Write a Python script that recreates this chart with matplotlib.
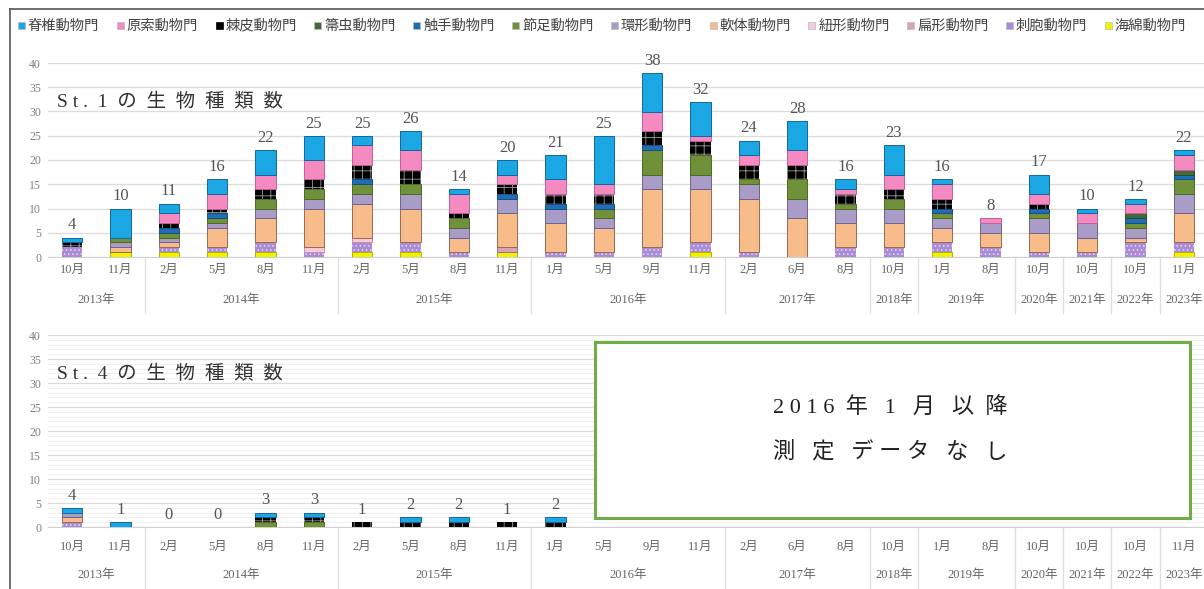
import matplotlib
matplotlib.use("Agg")
import matplotlib.pyplot as plt
import matplotlib.transforms as mtransforms
from matplotlib.patches import Rectangle
from matplotlib.lines import Line2D
import numpy as np

plt.rcParams['hatch.linewidth'] = 0.6
FONT = ['Liberation Serif', 'Noto Sans CJK JP', 'DejaVu Sans']
SANS = ['Noto Sans CJK JP', 'DejaVu Sans']

# ---------------- data ----------------
months = ["10月", "11月", "2月", "5月", "8月", "11月", "2月", "5月", "8月", "11月",
          "1月", "5月", "9月", "11月", "2月", "6月", "8月", "10月", "1月", "8月",
          "10月", "10月", "10月", "11月"]
years = ["2013年", "2014年", "2015年", "2016年", "2017年", "2018年", "2019年",
         "2020年", "2021年", "2022年", "2023年"]
year_counts = [2, 4, 4, 4, 3, 1, 2, 1, 1, 1, 1]

# legend order (top-left to right)
phyla = ["脊椎動物門", "原索動物門", "棘皮動物門", "箒虫動物門", "触手動物門", "節足動物門",
         "環形動物門", "軟体動物門", "紐形動物門", "扁形動物門", "刺胞動物門", "海綿動物門"]

# St.1 species counts per phylum
st1_sekitsui = [1, 6, 2, 3, 5, 5, 2, 4, 1, 3, 5, 10, 8, 7, 3, 6, 2, 6, 1, 0, 4, 1, 1, 1]
st1_gensaku  = [0, 0, 2, 3, 3, 4, 4, 4, 4, 2, 3, 2, 4, 1, 2, 3, 1, 3, 3, 1, 2, 2, 2, 3]
st1_kyokuhi  = [1, 0, 1, 1, 2, 2, 3, 3, 1, 2, 2, 2, 3, 3, 3, 3, 2, 2, 2, 0, 1, 0, 0, 0]
st1_houchu   = [0, 0, 0, 0, 0, 0, 0, 0, 0, 0, 0, 0, 0, 0, 0, 0, 0, 0, 0, 0, 0, 0, 1, 1]
st1_shokushu = [0, 0, 1, 1, 0, 0, 1, 0, 0, 1, 1, 1, 1, 0, 0, 0, 0, 0, 1, 0, 1, 0, 1, 1]
st1_sessoku  = [0, 1, 1, 1, 2, 2, 2, 2, 2, 0, 0, 2, 5, 4, 1, 4, 1, 2, 1, 0, 1, 0, 1, 3]
st1_kankei   = [0, 1, 1, 1, 2, 2, 2, 3, 2, 3, 3, 2, 3, 3, 3, 4, 3, 3, 2, 2, 3, 3, 2, 4]
st1_nantai   = [0, 1, 1, 4, 5, 8, 7, 7, 3, 7, 6, 5, 12, 11, 11, 8, 5, 5, 3, 3, 4, 3, 1, 6]
st1_chukei   = [0, 0, 0, 0, 0, 1, 1, 0, 0, 0, 0, 0, 0, 0, 0, 0, 0, 0, 0, 0, 0, 0, 0, 0]
st1_henkei   = [0, 0, 0, 0, 0, 0, 0, 0, 0, 1, 0, 0, 0, 0, 0, 0, 0, 0, 0, 0, 0, 0, 0, 0]
st1_shihou   = [2, 0, 1, 1, 2, 1, 2, 2, 1, 0, 1, 1, 2, 2, 1, 0, 2, 2, 2, 2, 1, 1, 3, 2]
st1_kaimen   = [0, 1, 1, 1, 1, 0, 1, 1, 0, 1, 0, 0, 0, 1, 0, 0, 0, 0, 1, 0, 0, 0, 0, 1]

# St.4 species counts (measured only up to 2016-01)
st4_sekitsui = [1, 1, 0, 0, 1, 1, 0, 1, 1, 0, 1]
st4_gensaku  = [0, 0, 0, 0, 0, 0, 0, 0, 0, 0, 0]
st4_kyokuhi  = [0, 0, 0, 0, 1, 1, 1, 1, 1, 1, 1]
st4_houchu   = [0, 0, 0, 0, 0, 0, 0, 0, 0, 0, 0]
st4_shokushu = [0, 0, 0, 0, 0, 0, 0, 0, 0, 0, 0]
st4_sessoku  = [0, 0, 0, 0, 1, 1, 0, 0, 0, 0, 0]
st4_kankei   = [1, 0, 0, 0, 0, 0, 0, 0, 0, 0, 0]
st4_nantai   = [1, 0, 0, 0, 0, 0, 0, 0, 0, 0, 0]
st4_chukei   = [0, 0, 0, 0, 0, 0, 0, 0, 0, 0, 0]
st4_henkei   = [0, 0, 0, 0, 0, 0, 0, 0, 0, 0, 0]
st4_shihou   = [1, 0, 0, 0, 0, 0, 0, 0, 0, 0, 0]
st4_kaimen   = [0, 0, 0, 0, 0, 0, 0, 0, 0, 0, 0]

st1 = [st1_sekitsui, st1_gensaku, st1_kyokuhi, st1_houchu, st1_shokushu, st1_sessoku,
       st1_kankei, st1_nantai, st1_chukei, st1_henkei, st1_shihou, st1_kaimen]
st4 = [st4_sekitsui, st4_gensaku, st4_kyokuhi, st4_houchu, st4_shokushu, st4_sessoku,
       st4_kankei, st4_nantai, st4_chukei, st4_henkei, st4_shihou, st4_kaimen]

# styles (same order as phyla)
face = ['#1AA7E3', '#F58AC0', '#000000', '#3F6B3A', '#1F6EB5', '#6F9139',
        '#A99CC6', '#F8BB8A', '#F6CADA', '#D9A2B8', '#A98BD6', '#F2F200']
edge = ['#1565A0', '#C0609A', '#9A9A9A', '#2A4A28', '#154E85', '#4E6A26',
        '#6E6390', '#9A6A50', '#C890A8', '#A07088', '#E6DAF5', '#B0B000']
hatch = [None, None, '++', None, None, None, None, None, None, None, '....', None]

# ---------------- figure ----------------
W, H = 1204, 589
fig = plt.figure(figsize=(W / 100, H / 100), dpi=100)


def fx(px):
    return px / W


def fy(py):
    return 1 - py / H


# outer frame lines
fig.add_artist(Line2D([fx(10), fx(1204)], [fy(9), fy(9)], color='#555555', lw=1.2))
fig.add_artist(Line2D([fx(10), fx(10)], [fy(9), fy(589)], color='#555555', lw=1.2))

# legend
for i, name in enumerate(phyla):
    x0 = 18 + i * 98.8
    fig.add_artist(Rectangle((fx(x0), fy(29)), fx(7), 7 / H, facecolor=face[i],
                             edgecolor='#BBBBBB' if i != 2 else '#000000', lw=0.5))
    fig.text(fx(x0 + 10), fy(25.5), name, fontsize=10.3, color='#444444',
             family=SANS, ha='left', va='center')

AX_L, AX_R = 48, 1208


def draw_panel(top_px, bot_px, series, n, title, minor, m_off, y_off):
    ax = fig.add_axes([fx(AX_L), fy(bot_px), fx(AX_R) - fx(AX_L), fy(top_px) - fy(bot_px)])
    ax.set_xlim(-0.5, 23.5)
    ax.set_ylim(0, 40)
    x = np.arange(n)
    bottom = np.zeros(n)
    for k in range(len(series) - 1, -1, -1):
        vals = np.array(series[k], dtype=float)
        m = vals > 0
        if m.any():
            if hatch[k] is not None:
                ax.bar(x[m], vals[m], bottom=bottom[m], width=0.42, color=face[k],
                       edgecolor=edge[k], hatch=hatch[k], linewidth=0, zorder=3)
            else:
                ax.bar(x[m], vals[m], bottom=bottom[m], width=0.42, color=face[k],
                       edgecolor=edge[k], linewidth=0.7, zorder=3)
        bottom += vals
    for i in range(n):
        ax.annotate(str(int(bottom[i])), (x[i], bottom[i]), xytext=(0, 3),
                    textcoords='offset points', ha='center', va='bottom',
                    fontsize=12, color='#555555', family=FONT)
    ax.set_yticks(range(0, 41, 5))
    ax.set_yticklabels([str(v) for v in range(0, 41, 5)], family=FONT)
    ax.tick_params(axis='y', length=0, labelsize=8.5, labelcolor='#808080', pad=5)
    ax.set_xticks([])
    if minor:
        ax.set_yticks(range(0, 41, 1), minor=True)
        ax.grid(axis='y', which='minor', color='#EEEEEE', lw=0.6)
        ax.tick_params(axis='y', which='minor', length=0)
    ax.grid(axis='y', which='major', color='#DCDCDC', lw=0.9)
    ax.set_axisbelow(True)
    for s in ['top', 'right', 'left']:
        ax.spines[s].set_visible(False)
    ax.spines['bottom'].set_color('#D0D0D0')
    ax.set_facecolor('none')

    # category labels
    tr = mtransforms.blended_transform_factory(ax.transData, fig.transFigure)
    for i, mth in enumerate(months):
        ax.text(i, fy(bot_px + m_off), mth, transform=tr, ha='center', va='center',
                fontsize=9, color='#666666', family=FONT)
    pos = 0
    for yr, c in zip(years, year_counts):
        ax.text(pos + (c - 1) / 2, fy(bot_px + y_off), yr, transform=tr, ha='center', va='center',
                fontsize=9, color='#666666', family=FONT)
        pos += c
        if pos < 24:
            ax.add_artist(Line2D([pos - 0.5, pos - 0.5], [fy(bot_px), fy(bot_px + y_off + 13)],
                                 transform=tr, color='#DDDDDD', lw=0.9, clip_on=False))
    fig.text(fx(57), fy(top_px + 39), title, fontsize=14, color='#333333',
             family=FONT, ha='left', va='center')
    return ax


ax1 = draw_panel(63, 257, st1, 24, "S t .  1  の  生  物  種  類  数", False, 13, 43)
ax2 = draw_panel(335, 527, st4, 11, "S t .  4  の  生  物  種  類  数", True, 20, 48)

# note box for St.4
fig.add_artist(Rectangle((fx(595), fy(518)), fx(1190) - fx(595), fy(342) - fy(518),
                         facecolor='white', edgecolor='#70AD47', lw=2.2, zorder=5))
fig.text(fx(890), fy(408), "2 0 1 6  年   1   月   以  降", fontsize=16, color='#222222',
         family=FONT, ha='center', va='center', zorder=6)
fig.text(fx(890), fy(452), "測   定   デ ー タ   な   し", fontsize=16, color='#222222',
         family=FONT, ha='center', va='center', zorder=6)

fig.savefig("out.png", dpi=100)
